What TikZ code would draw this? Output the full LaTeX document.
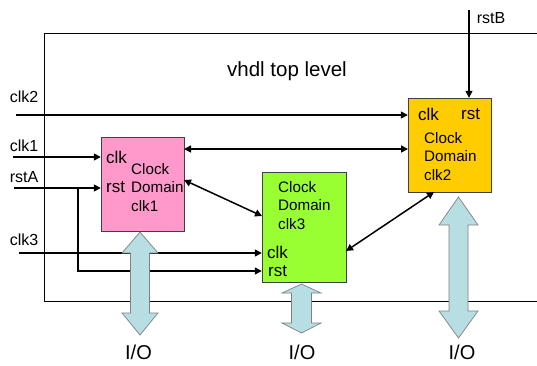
\documentclass[tikz,border=0pt]{standalone}
\usepackage{fontspec}
\setmainfont{Liberation Sans}
\usetikzlibrary{arrows.meta}
\definecolor{pinkbox}{HTML}{FF99CC}
\definecolor{greenbox}{HTML}{99FF33}
\definecolor{orangebox}{HTML}{FFCC00}
\definecolor{iofill}{HTML}{B7DEE3}
\tikzset{
  lbl/.style={font=\fontsize{16}{18}\selectfont, inner sep=0pt},
  port/.style={font=\fontsize{17}{18}\selectfont, inner sep=0pt, anchor=west},
  dtext/.style={font=\fontsize{15.2}{18.5}\selectfont, inner sep=0pt, align=left, anchor=north west},
  sig/.style={line width=1.5pt, -{Triangle[length=7pt,width=7pt]}},
  bidir/.style={line width=1.5pt, {Triangle[length=7pt,width=7pt]}-{Triangle[length=7pt,width=7pt]}},
  bus/.style={fill=iofill, draw=black!50, line width=0.7pt, line join=miter},
  iolbl/.style={font=\fontsize{20}{22}\selectfont, inner sep=0pt}
}
\begin{document}
\begin{tikzpicture}[x=1pt,y=-1pt]
\useasboundingbox (0,0) rectangle (537,365);
% top level frame
\draw[line width=0.9pt] (537,33) -- (44,33) -- (44,301) -- (537,301);
\node[font=\fontsize{20.5}{22}\selectfont, inner sep=0pt] (title) at (287,71) {vhdl top level};

% boxes
\path[draw=black!75, fill=pinkbox, line width=0.7pt] (101,137) rectangle (184,231);
\path[draw=black!75, fill=greenbox, line width=0.7pt] (262,172) rectangle (346,282);
\path[draw=black!75, fill=orangebox, line width=0.7pt] (408,98) rectangle (491,192);
\node[inner sep=0pt, minimum width=83pt, minimum height=94pt] (p) at (142.5,184) {};
\node[inner sep=0pt, minimum width=84pt, minimum height=110pt] (g) at (304,227) {};
\node[inner sep=0pt, minimum width=83pt, minimum height=94pt] (o) at (449.5,145) {};

% box texts
\node[port] (pclk) at (106,157) {clk};
\node[port] (prst) at (106,187) {rst};
\node[dtext] (ptx) at (131,163) {Clock\\Domain\\clk1};
\node[dtext] (gtx) at (278,181) {Clock\\Domain\\clk3};
\node[port] (gclk) at (267,252) {clk};
\node[port] (grst) at (268,271) {rst};
\node[port] (oclk) at (418,114) {clk};
\node[port] (orst) at (461,114) {rst};
\node[dtext] (otx) at (424,132) {Clock\\Domain\\clk2};

% input labels
\node[lbl] (lclk2) at (24,97) {clk2};
\node[lbl] (lclk1) at (24,146) {clk1};
\node[lbl] (lrsta) at (24,177) {rstA};
\node[lbl] (lclk3) at (24,240) {clk3};
\node[lbl] (lrstb) at (491,18) {rstB};

% signal ends
\coordinate (s2) at (16,115);
\coordinate (s1) at (13,157);
\coordinate (sa) at (14,188);
\coordinate (s3) at (19,253);
\coordinate (sb) at (469,10);
\coordinate (br) at (78,188);

\draw[sig] (s2) -- (s2 -| o.west);
\draw[sig] (sb) -- (sb |- o.north);
\draw[sig] (s1) -- (s1 -| p.west);
\draw[sig] (sa) -- (sa -| p.west);
\draw[sig] (s3) -- (s3 -| g.west);
\draw[sig] (br) -- (78,271) -- (g.west |- 0,271);
\draw[bidir] (184,149) -- (408,149);
\draw[bidir] (184,180) -- (262,216);
\draw[bidir] (346,251) -- (434,192);

% I/O buses
\draw[bus] (140,232) -- (158,253) -- (149.5,253) -- (149.5,313) -- (158,313) -- (140,335) -- (122,313) -- (130.5,313) -- (130.5,253) -- (122,253) -- cycle;
\draw[bus] (301.5,284) -- (321,293) -- (311.5,293) -- (311.5,323) -- (321,323) -- (301.5,333) -- (282,323) -- (291.5,323) -- (291.5,293) -- (282,293) -- cycle;
\draw[bus] (458.5,197) -- (478,225) -- (468,225) -- (468,311) -- (478,311) -- (458.5,338) -- (439,311) -- (449,311) -- (449,225) -- (439,225) -- cycle;

\node[iolbl] (io1) at (138.5,352) {I/O};
\node[iolbl] (io2) at (302,352) {I/O};
\node[iolbl] (io3) at (462,352) {I/O};
\end{tikzpicture}
\end{document}
